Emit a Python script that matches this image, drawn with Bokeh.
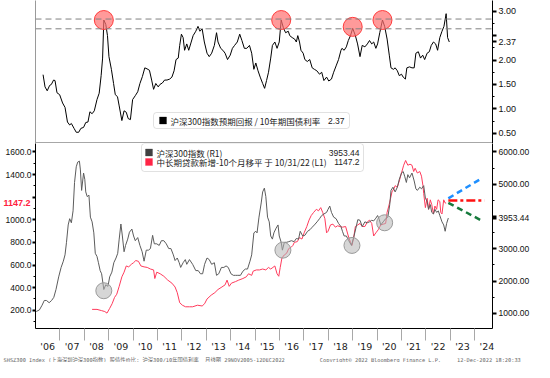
from bokeh.plotting import figure
from bokeh.models import (Range1d, LinearAxis, FixedTicker, NumeralTickFormatter,
                          Label, BoxAnnotation, Span, Title)
from bokeh.layouts import column
from bokeh.embed import file_html
from bokeh.resources import INLINE

# ---------------- data ----------------
ratio_x = [2006.31,2006.39,2006.48,2006.58,2006.65,2006.74,2006.80,2006.88,2006.99,2007.11,2007.21,2007.31,
           2007.40,2007.47,2007.58,2007.67,2007.77,2007.86,2007.97,2008.06,2008.15,2008.23,2008.32,2008.41,
           2008.52,2008.61,2008.69,2008.75,2008.80,2008.88,2008.95,2009.01,2009.11,2009.20,2009.27,2009.36,
           2009.43,2009.54,2009.63,2009.72,2009.80,2009.89,2009.98,2010.09,2010.19,2010.28,2010.38,2010.48,
           2010.57,2010.67,2010.76,2010.84,2010.93,2011.03,2011.10,2011.20,2011.29,2011.39,2011.50,2011.59,
           2011.68,2011.76,2011.85,2011.91,2011.98,2012.05,2012.11,2012.20,2012.28,2012.37,2012.46,2012.57,
           2012.66,2012.74,2012.83,2012.92,2013.03,2013.12,2013.22,2013.33,2013.42,2013.48,2013.59,2013.68,
           2013.77,2013.87,2013.98,2014.07,2014.16,2014.27,2014.37,2014.46,2014.56,2014.66,2014.77,2014.86,
           2014.95,2015.03,2015.12,2015.21,2015.31,2015.39,2015.47,2015.55,2015.64,2015.71,2015.81,2015.90,
           2015.99,2016.07,2016.16,2016.25,2016.36,2016.42,2016.52,2016.62,2016.69,2016.75,2016.82,2016.88,
           2016.97,2017.04,2017.14,2017.24,2017.34,2017.43,2017.53,2017.64,2017.73,2017.82,2017.93,2018.02,
           2018.13,2018.22,2018.32,2018.42,2018.52,2018.56,2018.65,2018.74,2018.82,2018.91,2019.00,2019.11,
           2019.20,2019.30,2019.39,2019.50,2019.60,2019.69,2019.78,2019.86,2019.95,2020.02,2020.11,2020.22,
           2020.31,2020.41,2020.50,2020.57,2020.67,2020.74,2020.83,2020.91,2021.00,2021.07,2021.16,2021.22,
           2021.33,2021.43,2021.52,2021.59,2021.69,2021.78,2021.87,2021.95,2022.05,2022.14,2022.22,2022.31,
           2022.40,2022.48,2022.57,2022.66,2022.74,2022.83,2022.89,2022.96]
ratio_y = [1.70,1.45,1.37,1.48,1.50,1.59,1.58,1.33,1.29,1.12,1.03,0.73,
           0.67,0.70,0.60,0.52,0.52,0.60,0.62,0.72,0.73,0.94,0.90,0.96,
           1.19,1.32,1.68,2.04,2.82,2.73,2.50,2.07,1.81,1.52,1.29,1.25,
           1.06,0.76,0.96,0.93,0.80,0.78,1.19,1.27,1.35,1.52,1.66,1.84,
           1.82,1.79,1.59,1.40,1.52,1.45,1.50,1.53,1.59,1.59,1.61,1.65,
           1.78,2.01,2.04,2.30,2.53,2.46,2.20,2.33,2.20,2.35,2.50,2.59,
           2.69,2.59,2.64,2.37,2.14,2.07,2.14,2.30,2.56,2.37,2.24,2.20,
           2.14,2.01,2.10,2.24,2.30,2.37,2.53,2.40,2.24,2.24,2.30,2.14,
           1.81,1.94,1.78,1.65,1.52,1.42,1.58,1.75,2.04,2.30,2.37,2.24,
           2.37,2.82,2.66,2.56,2.59,2.50,2.46,2.43,2.37,2.50,2.37,2.20,
           2.14,2.01,1.97,2.01,1.84,1.81,1.78,1.71,1.75,1.58,1.65,1.57,
           1.61,1.75,1.88,2.01,2.20,2.24,2.20,2.27,2.40,2.50,2.65,2.50,
           2.33,2.07,2.30,2.27,2.33,2.40,2.33,2.37,2.24,2.33,2.56,2.82,
           2.69,2.43,2.10,1.84,1.81,1.84,1.78,1.68,1.71,1.65,1.61,1.84,
           1.86,1.84,1.84,2.14,2.17,2.04,2.10,2.01,2.14,2.17,2.30,2.37,
           2.33,2.20,2.46,2.59,2.69,2.95,2.46,2.37]
ratio_levels = [2.84, 2.64]
ratio_peak_x = [2008.80, 2016.07, 2019.00, 2020.22]
ratio_peak_y = [2.82, 2.82, 2.68, 2.82]
ratio_ticks = [0.5, 1.0, 1.5, 2.0, 2.5, 3.0]
ratio_minor = [0.75, 1.25, 1.75, 2.25, 2.75]

csi_x = [2006.03,2006.16,2006.27,2006.36,2006.45,2006.56,2006.66,2006.75,2006.84,2006.95,2007.05,2007.14,
         2007.21,2007.27,2007.34,2007.40,2007.47,2007.54,2007.60,2007.67,2007.73,2007.80,2007.84,2007.89,
         2007.97,2008.02,2008.06,2008.12,2008.19,2008.25,2008.32,2008.39,2008.45,2008.52,2008.58,2008.65,
         2008.71,2008.80,2008.88,2008.97,2009.04,2009.13,2009.21,2009.30,2009.37,2009.43,2009.50,2009.56,
         2009.63,2009.69,2009.78,2009.85,2009.95,2010.02,2010.09,2010.19,2010.28,2010.37,2010.45,2010.54,
         2010.63,2010.71,2010.80,2010.87,2010.97,2011.07,2011.16,2011.26,2011.36,2011.46,2011.55,2011.65,
         2011.72,2011.81,2011.89,2011.95,2012.05,2012.14,2012.20,2012.31,2012.44,2012.57,2012.67,2012.76,
         2012.85,2012.93,2013.03,2013.12,2013.22,2013.33,2013.42,2013.51,2013.62,2013.72,2013.81,2013.90,
         2014.01,2014.11,2014.20,2014.29,2014.40,2014.50,2014.60,2014.69,2014.79,2014.86,2014.95,2015.03,
         2015.08,2015.16,2015.25,2015.31,2015.38,2015.44,2015.51,2015.58,2015.64,2015.71,2015.77,2015.86,
         2015.94,2015.99,2016.07,2016.12,2016.20,2016.29,2016.38,2016.49,2016.60,2016.69,2016.78,2016.85,
         2016.95,2017.04,2017.15,2017.25,2017.34,2017.43,2017.54,2017.64,2017.73,2017.82,2017.93,2017.99,
         2018.06,2018.13,2018.22,2018.32,2018.42,2018.52,2018.58,2018.65,2018.74,2018.84,2018.95,2019.04,
         2019.13,2019.21,2019.30,2019.39,2019.50,2019.60,2019.69,2019.78,2019.86,2019.95,2020.02,2020.09,
         2020.15,2020.25,2020.35,2020.44,2020.52,2020.57,2020.65,2020.74,2020.83,2020.91,2021.00,2021.07,
         2021.13,2021.20,2021.26,2021.33,2021.43,2021.52,2021.59,2021.65,2021.75,2021.82,2021.91,2021.98,
         2022.05,2022.11,2022.18,2022.24,2022.31,2022.37,2022.44,2022.51,2022.57,2022.66,2022.73,2022.79,
         2022.85,2022.92]
csi_y = [1058,1107,1254,1400,1400,1331,1400,1497,1740,2131,2424,2617,
         2813,3202,3740,3933,3807,4178,5056,5541,5687,5717,5444,4810,
         5348,5152,4763,4617,4664,3982,3836,3494,2862,2764,2570,2325,
         2228,1740,1886,1839,2131,2278,2570,2716,2862,3301,3769,3398,
         2910,3105,3301,3515,3612,3398,3252,3349,3105,2910,2617,2959,
         2959,3008,3418,3155,3155,3105,3252,3252,3155,3008,3008,2813,
         2637,2716,2570,2424,2570,2667,2520,2667,2520,2325,2325,2228,
         2228,2520,2716,2667,2520,2570,2179,2228,2424,2424,2471,2424,
         2228,2179,2179,2179,2179,2306,2374,2374,2617,2813,3494,3544,
         3494,3982,4421,4763,4880,4617,3982,3836,3398,3301,3494,3640,
         3740,3398,3202,2959,3202,3202,3222,3252,3222,3320,3301,3544,
         3398,3418,3544,3593,3670,3740,3836,3933,4032,4079,4129,4225,
         4325,4129,3982,3933,3787,3690,3544,3398,3398,3252,3105,3349,
         3640,3904,3884,3690,3836,3807,3836,3884,3865,3950,4032,3904,
         3740,3836,3933,3982,4371,4810,4909,4763,4909,5152,5348,5395,
         5249,5056,5298,5200,5348,5103,4860,4810,4909,4860,4957,4567,
         4470,4225,4371,4129,4079,4225,4129,4175,4032,3836,3740,3544,
         3787,3953.44]
csi_trough_x = [2008.80, 2016.14, 2018.97, 2020.31]
csi_trough_y = [1702, 2959, 3105, 3807]
csi_ticks = [1000, 2000, 3000, 4000, 5000, 6000]
csi_minor = [1500, 2500, 3500, 4500, 5500]

loan_x = [2008.32,2008.52,2008.71,2008.84,2008.93,2009.04,2009.14,2009.24,2009.33,2009.43,2009.54,2009.63,
          2009.72,2009.82,2009.93,2010.02,2010.11,2010.22,2010.32,2010.45,2010.58,2010.71,2010.84,2010.89,
          2010.97,2011.11,2011.26,2011.42,2011.59,2011.72,2011.81,2011.91,2012.02,2012.15,2012.31,2012.44,
          2012.64,2012.83,2012.93,2013.03,2013.20,2013.35,2013.48,2013.64,2013.77,2013.85,2013.94,2014.03,
          2014.20,2014.33,2014.50,2014.64,2014.73,2014.86,2014.92,2015.05,2015.18,2015.31,2015.44,2015.55,
          2015.64,2015.73,2015.81,2015.90,2015.97,2016.03,2016.10,2016.20,2016.29,2016.38,2016.49,2016.55,
          2016.61,2016.73,2016.82,2016.92,2017.01,2017.12,2017.21,2017.30,2017.40,2017.51,2017.60,2017.69,
          2017.77,2017.86,2017.93,2017.99,2018.09,2018.19,2018.29,2018.38,2018.48,2018.58,2018.71,2018.82,
          2018.91,2018.97,2019.04,2019.11,2019.21,2019.30,2019.39,2019.50,2019.60,2019.69,2019.78,2019.86,
          2019.95,2020.05,2020.15,2020.25,2020.35,2020.41,2020.48,2020.54,2020.61,2020.69,2020.74,2020.83,
          2020.91,2021.00,2021.09,2021.17,2021.26,2021.35,2021.43,2021.50,2021.56,2021.65,2021.75,2021.82,
          2021.88,2021.91,2021.98,2022.05,2022.11,2022.18,2022.24,2022.31,2022.37,2022.44,2022.50,2022.57,
          2022.61,2022.66,2022.73,2022.79,2022.83]
loan_y = [208,208,197,189,175,217,258,314,342,412,496,537,
          592,584,607,621,640,633,592,584,579,565,557,481,
          537,523,501,467,440,406,356,267,245,231,231,231,
          245,238,258,300,334,356,384,406,425,467,412,440,
          454,467,481,496,523,509,546,557,557,565,557,579,
          565,579,592,523,501,579,663,690,704,746,760,774,
          801,807,843,830,885,941,997,1038,1066,1093,1080,1108,
          1066,1010,885,899,955,962,935,947,941,935,941,857,
          801,774,843,941,955,968,941,941,982,997,968,857,
          885,913,955,962,968,1066,1122,1177,1247,1275,1302,1288,
          1344,1414,1483,1525,1483,1492,1483,1427,1456,1414,1427,1386,
          1302,1233,1108,1191,1093,1177,1135,1052,1122,1093,1177,1163,
          1066,1052,1177,1149,1147.2]
loan_ticks = [200, 400, 600, 800, 1000, 1200, 1400, 1600]
loan_minor = [100, 300, 500, 700, 900, 1100, 1300, 1500]

proj_start_x = 2022.92
proj_end_x = [2024.27, 2024.40, 2024.27]
proj_start_y = [1190, 1170, 1150]
proj_end_y = [1365, 1170, 995]
proj_colors = ["#1e8fff", "#ff1010", "#167a3c"]
proj_dash = ["6 4", "9 3 3 3", "6 4"]

year_mid = [y + 0.5 for y in range(2006, 2025)]
year_labels = ["'%02d" % (y % 100) for y in range(2006, 2025)]
year_bounds = [float(y) for y in range(2007, 2025)]

X0, X1 = 2006.0, 2024.73
W = 534
LB, RB = 34, 42
NUM_FONT = "Liberation Sans"
CJK = "Noto Sans CJK SC"


def style_y(ax, tick_out, size):
    ax.major_tick_in = 0
    ax.major_tick_out = tick_out
    ax.major_tick_line_width = 2
    ax.minor_tick_in = 0
    ax.minor_tick_out = 2
    ax.major_label_text_font = NUM_FONT
    ax.major_label_text_font_size = size
    ax.major_label_text_color = "#111111"
    ax.axis_line_color = "black"


# ---------------- top panel ----------------
top = figure(width=W, height=143, x_range=Range1d(X0, X1), y_range=Range1d(0.29, 3.22),
             output_backend="svg", toolbar_location=None, y_axis_location="right",
             min_border_left=LB, min_border_right=RB, min_border_top=0, min_border_bottom=0)
top.outline_line_color = None
top.grid.visible = False

xa = top.xaxis[0]
xa.ticker = FixedTicker(ticks=[])
xa.axis_line_width = 2
xa.axis_line_color = "#505050"
xa.major_tick_out = 0
xa.minor_tick_out = 0
xa.major_label_standoff = 0

ya = top.yaxis[0]
ya.ticker = FixedTicker(ticks=ratio_ticks + [ratio_y[-1]], minor_ticks=ratio_minor)
ya.formatter = NumeralTickFormatter(format="0.00")
ya.major_label_overrides = {2.5: ""}
style_y(ya, 4, "9px")
ya.major_label_standoff = 2

left_line = LinearAxis(ticker=FixedTicker(ticks=[]), axis_line_color="#9a9a9a",
                       major_tick_out=0, minor_tick_out=0, major_label_standoff=0)
top.add_layout(left_line, "left")

for lv in ratio_levels:
    top.add_layout(Span(location=lv, dimension="width", line_color="#808080",
                        line_dash="6 4", line_width=1))

top.line(ratio_x, ratio_y, line_color="black", line_width=1)
top.scatter(ratio_peak_x, ratio_peak_y, size=19, fill_color="#ff6f6f", fill_alpha=0.7,
            line_color="#ff3a3a", line_width=1)

# legend (top)
top.add_layout(BoxAnnotation(left=118, right=314, bottom=15, top=31,
                             left_units="screen", right_units="screen",
                             bottom_units="screen", top_units="screen",
                             fill_color="white", fill_alpha=1, line_color="#9a9a9a",
                             line_width=1, border_radius=3))
top.add_layout(BoxAnnotation(left=124, right=131, bottom=19.5, top=26.5,
                             left_units="screen", right_units="screen",
                             bottom_units="screen", top_units="screen",
                             fill_color="black", fill_alpha=1, line_color="black"))
top.add_layout(Label(x=135, y=23, x_units="screen", y_units="screen",
                     text="沪深300指数预期回报 / 10年期国债利率", text_font=CJK,
                     text_font_size="8.5px", text_baseline="middle", text_color="#222222"))
top.add_layout(Label(x=309, y=23, x_units="screen", y_units="screen",
                     text="%.2f" % ratio_y[-1], text_font=NUM_FONT, text_align="right",
                     text_font_size="8.5px", text_baseline="middle", text_color="#222222"))

# ---------------- bottom panel ----------------
bot = figure(width=W, height=219, x_range=top.x_range, y_range=Range1d(39, 1675),
             output_backend="svg", toolbar_location=None,
             min_border_left=LB, min_border_right=RB, min_border_top=0, min_border_bottom=0)
bot.outline_line_color = None
bot.grid.visible = False
bot.extra_y_ranges = {"r": Range1d(532, 6263)}

la = bot.yaxis[0]
la.ticker = FixedTicker(ticks=loan_ticks, minor_ticks=loan_minor)
la.formatter = NumeralTickFormatter(format="0.0")
la.major_label_overrides = {1200: ""}
style_y(la, 3, "8.5px")
la.major_label_standoff = 1

ra = LinearAxis(y_range_name="r", ticker=FixedTicker(ticks=csi_ticks + [csi_y[-1]], minor_ticks=csi_minor),
                formatter=NumeralTickFormatter(format="0.00"),
                major_label_overrides={4000: ""}, major_label_standoff=2)
style_y(ra, 4, "8.5px")
bot.add_layout(ra, "right")

# red value tag for the left series (outer left axis drawn back over the label column)
tag = LinearAxis(ticker=FixedTicker(ticks=[loan_y[-1]]), major_label_overrides={loan_y[-1]: "%.1f" % loan_y[-1]},
                 axis_line_color=None, major_tick_out=0, major_tick_in=0, minor_tick_out=0,
                 minor_tick_in=0, major_tick_line_color=None, minor_tick_line_color=None,
                 major_label_standoff=-28, major_label_text_font=NUM_FONT,
                 major_label_text_font_size="9px", major_label_text_font_style="bold",
                 major_label_text_color="#ff2040")
bot.add_layout(tag, "left")

bx = bot.xaxis[0]
bx.ticker = FixedTicker(ticks=year_mid, minor_ticks=year_bounds)
bx.major_label_overrides = dict(zip(year_mid, year_labels))
bx.major_tick_out = 12
bx.major_tick_in = 0
bx.major_tick_line_color = None
bx.minor_tick_out = 12
bx.minor_tick_in = 0
bx.minor_tick_line_color = "#a8a8a8"
bx.major_label_text_font = "DejaVu Sans"
bx.major_label_text_font_size = "9.5px"
bx.major_label_text_color = "#222222"
bx.major_label_standoff = 0
bx.axis_line_color = "black"

bot.line(loan_x, loan_y, line_color="#ff3b5c", line_width=1)
bot.line(csi_x, csi_y, line_color="#5c5c5c", line_width=1, y_range_name="r")
bot.scatter(csi_trough_x, csi_trough_y, size=16, fill_color="#b4b4b4", fill_alpha=0.55,
            line_color="#9a9a9a", line_width=1, y_range_name="r")

for ex, sy, ey, c, d in zip(proj_end_x, proj_start_y, proj_end_y, proj_colors, proj_dash):
    bot.line([proj_start_x, ex], [sy, ey], line_color=c, line_width=2.5, line_dash=d)

# legend (bottom)
bot.add_layout(BoxAnnotation(left=106, right=328, bottom=157, top=185,
                             left_units="screen", right_units="screen",
                             bottom_units="screen", top_units="screen",
                             fill_color="white", fill_alpha=1, line_color="#9a9a9a",
                             line_width=1, border_radius=3))
for yy, col in ((176, "#404040"), (166.5, "#ff2445")):
    bot.add_layout(BoxAnnotation(left=110, right=117, bottom=yy - 3.5, top=yy + 3.5,
                                 left_units="screen", right_units="screen",
                                 bottom_units="screen", top_units="screen",
                                 fill_color=col, fill_alpha=1, line_color=col))
bot.add_layout(Label(x=121, y=176, x_units="screen", y_units="screen",
                     text="沪深300指数  (R1)", text_font=CJK, text_font_size="8.5px",
                     text_baseline="middle", text_color="#222222"))
bot.add_layout(Label(x=121, y=166.5, x_units="screen", y_units="screen",
                     text="中长期贷款新增-10个月移平 于 10/31/22 (L1)", text_font=CJK,
                     text_font_size="8.5px", text_baseline="middle", text_color="#222222"))
bot.add_layout(Label(x=324, y=176, x_units="screen", y_units="screen",
                     text="%.2f" % csi_y[-1], text_font=NUM_FONT, text_font_size="8.5px",
                     text_align="right", text_baseline="middle", text_color="#222222"))
bot.add_layout(Label(x=324, y=166.5, x_units="screen", y_units="screen",
                     text="%.1f" % loan_y[-1], text_font=NUM_FONT, text_font_size="8.5px",
                     text_align="right", text_baseline="middle", text_color="#222222"))

# footer
NB = "\u00a0"
footer = ("SHSZ300 Index (上海深圳沪深300指数) 股债性价比: 沪深300/10年国债利率" + NB * 2 +
          "月线图 29NOV2005-12DEC2022" + NB * 11 +
          "Copyright\u00a9 2022 Bloomberg Finance L.P." + NB * 5 +
          "12-Dec-2022 18:20:33")
bot.add_layout(Title(text=footer, align="left", offset=-32, standoff=0,
                     text_font="DejaVu Sans Mono, Noto Sans CJK SC", text_font_size="5.3px",
                     text_font_style="normal", text_color="#666666"), "below")

layout = column(top, bot, spacing=0)
open("out.html", "w").write(file_html(layout, INLINE))
